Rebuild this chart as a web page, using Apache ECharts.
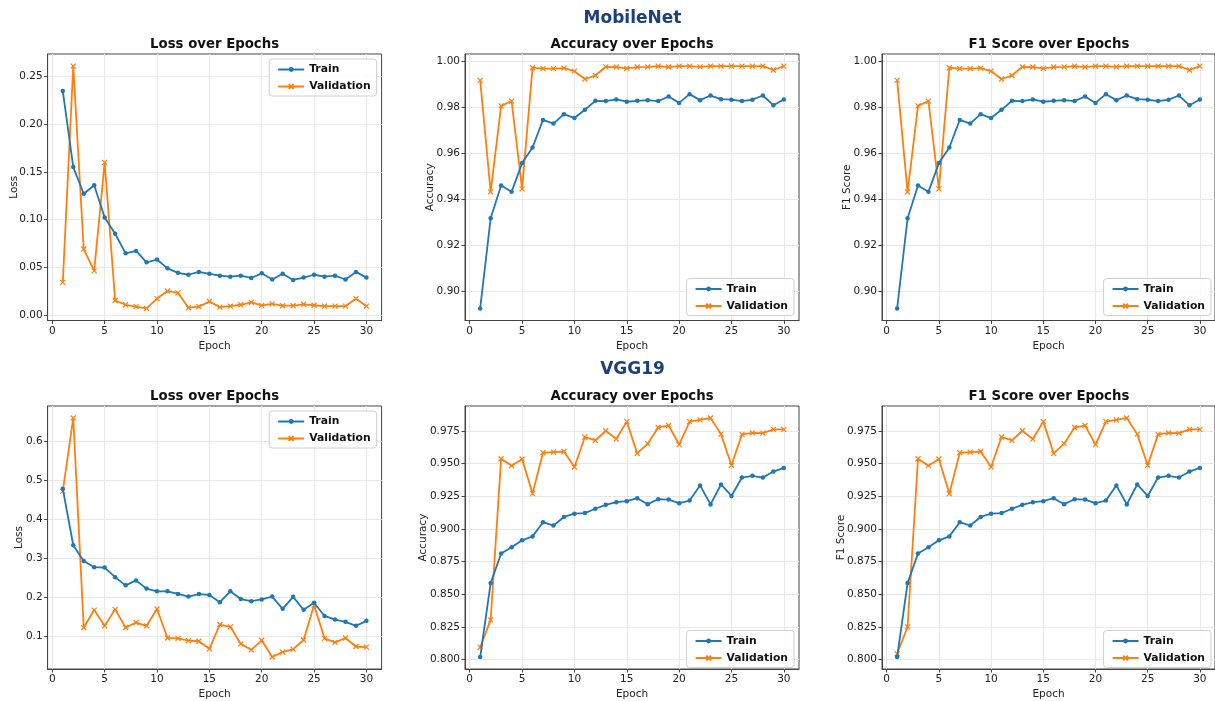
<!DOCTYPE html>
<html>
<head>
<meta charset="utf-8">
<script src="https://cdn.jsdelivr.net/npm/echarts@6/dist/echarts.min.js"></script>
<style>
html,body{margin:0;padding:0;background:#fff;}
#chart{width:1215px;height:701px;}
</style>
</head>
<body>
<div id="chart"></div>
<script>
// ---------- DATA ----------
const epochs = [1,2,3,4,5,6,7,8,9,10,11,12,13,14,15,16,17,18,19,20,21,22,23,24,25,26,27,28,29,30];
const xTicks = [0,5,10,15,20,25,30];

// MobileNet
const mnLossTrain = [0.235,0.155,0.127,0.136,0.102,0.085,0.0645,0.067,0.055,0.058,0.0487,0.044,0.042,0.045,0.043,0.041,0.040,0.041,0.0386,0.0435,0.037,0.043,0.0365,0.039,0.042,0.040,0.041,0.037,0.045,0.039];
const mnLossVal = [0.034,0.261,0.069,0.046,0.160,0.015,0.0105,0.0085,0.0067,0.017,0.025,0.023,0.0074,0.0085,0.014,0.008,0.009,0.0105,0.013,0.0098,0.0115,0.0095,0.0095,0.011,0.010,0.009,0.009,0.009,0.017,0.009];
const mnAccTrain = [0.8927,0.9319,0.9462,0.9434,0.9559,0.9627,0.9747,0.9731,0.9772,0.9755,0.9791,0.9830,0.9829,0.9836,0.9826,0.9830,0.9833,0.9829,0.9849,0.9821,0.9859,0.9833,0.9853,0.9837,0.9835,0.9829,0.9835,0.9853,0.9811,0.9836];
const mnAccVal = [0.9919,0.9434,0.9808,0.9829,0.9447,0.9974,0.9970,0.9970,0.9972,0.9959,0.9925,0.9940,0.9978,0.9977,0.9971,0.9977,0.9978,0.9981,0.9977,0.9981,0.9981,0.9978,0.9981,0.9981,0.9981,0.9981,0.9981,0.9981,0.9964,0.9981];
const mnF1Train = [0.8927,0.9319,0.9462,0.9434,0.9559,0.9627,0.9747,0.9731,0.9772,0.9755,0.9791,0.9830,0.9829,0.9836,0.9826,0.9830,0.9833,0.9829,0.9849,0.9821,0.9859,0.9833,0.9853,0.9837,0.9835,0.9829,0.9835,0.9853,0.9811,0.9836];
const mnF1Val = [0.9919,0.9434,0.9808,0.9829,0.9447,0.9974,0.9970,0.9970,0.9972,0.9959,0.9925,0.9940,0.9978,0.9977,0.9971,0.9977,0.9978,0.9981,0.9977,0.9981,0.9981,0.9978,0.9981,0.9981,0.9981,0.9981,0.9981,0.9981,0.9964,0.9981];

// VGG19
const vgLossTrain = [0.479,0.3335,0.293,0.277,0.276,0.2514,0.2303,0.243,0.222,0.215,0.215,0.2083,0.2015,0.208,0.2058,0.187,0.215,0.195,0.1897,0.194,0.2015,0.170,0.2007,0.1677,0.1855,0.1516,0.1423,0.1364,0.1262,0.139];
const vgLossVal = [0.472,0.661,0.122,0.1668,0.1262,0.1685,0.122,0.1347,0.1262,0.1694,0.095,0.094,0.0882,0.0865,0.067,0.1296,0.1237,0.0797,0.0645,0.089,0.0459,0.0585,0.0662,0.0898,0.1795,0.094,0.0838,0.095,0.073,0.0713];
const vgAccTrain = [0.8018,0.8585,0.8812,0.886,0.8913,0.8943,0.9052,0.9026,0.9092,0.9117,0.9122,0.9155,0.9185,0.9205,0.9213,0.9236,0.919,0.9228,0.9225,0.9198,0.9218,0.9334,0.9188,0.9341,0.9253,0.9394,0.9407,0.9394,0.9440,0.9468];
const vgAccVal = [0.8093,0.8303,0.9538,0.9485,0.9536,0.9271,0.9584,0.9589,0.9594,0.9475,0.9705,0.9679,0.9753,0.9689,0.9823,0.9579,0.9654,0.9778,0.9793,0.9647,0.9823,0.9836,0.9851,0.9727,0.9488,0.9725,0.9737,0.9735,0.9763,0.9763];
const vgF1Train = [0.8018,0.8585,0.8812,0.886,0.8913,0.8943,0.9052,0.9026,0.9092,0.9117,0.9122,0.9155,0.9185,0.9205,0.9213,0.9236,0.919,0.9228,0.9225,0.9198,0.9218,0.9334,0.9188,0.9341,0.9253,0.9394,0.9407,0.9394,0.9440,0.9468];
const vgF1Val = [0.8043,0.825,0.9538,0.9485,0.9536,0.9271,0.9584,0.9589,0.9594,0.9475,0.9705,0.9679,0.9753,0.9689,0.9823,0.9579,0.9654,0.9778,0.9793,0.9647,0.9823,0.9836,0.9851,0.9727,0.9488,0.9725,0.9737,0.9735,0.9763,0.9763];

// tick labels
const yTicksMnLoss = [0.00,0.05,0.10,0.15,0.20,0.25];
const yTicksMnAcc = [0.90,0.92,0.94,0.96,0.98,1.00];
const yTicksVgLoss = [0.1,0.2,0.3,0.4,0.5,0.6];
const yTicksVgAcc = [0.800,0.825,0.850,0.875,0.900,0.925,0.950,0.975];

const suptitles = ['MobileNet','VGG19'];
const panelTitles = ['Loss over Epochs','Accuracy over Epochs','F1 Score over Epochs'];
const yNames = ['Loss','Accuracy','F1 Score'];
const seriesNames = ['Train','Validation'];

// ---------- LAYOUT ----------
const FONT = 'DejaVu Sans';
const TXT = '#222';
const C_TRAIN = '#1f77b4', C_VAL = '#ff7f0e';
const gridW = 334, gridH = 266.5;
const lefts = [47.6, 465, 882];
const tops = [54, 406];

const panels = [
  {row:0,col:0,train:mnLossTrain,val:mnLossVal,ticks:yTicksMnLoss,dec:2,nameGap:28,legend:'top'},
  {row:0,col:1,train:mnAccTrain,val:mnAccVal,ticks:yTicksMnAcc,dec:2,nameGap:29,legend:'bottom'},
  {row:0,col:2,train:mnF1Train,val:mnF1Val,ticks:yTicksMnAcc,dec:2,nameGap:29,legend:'bottom'},
  {row:1,col:0,train:vgLossTrain,val:vgLossVal,ticks:yTicksVgLoss,dec:1,nameGap:23,legend:'top'},
  {row:1,col:1,train:vgAccTrain,val:vgAccVal,ticks:yTicksVgAcc,dec:3,nameGap:36,legend:'bottom'},
  {row:1,col:2,train:vgF1Train,val:vgF1Val,ticks:yTicksVgAcc,dec:3,nameGap:35,legend:'bottom'}
];

const xSpan = epochs[epochs.length-1] - epochs[0];
const xMin = epochs[0] - 0.05*xSpan, xMax = epochs[epochs.length-1] + 0.05*xSpan;

const grids=[], xAxes=[], yAxes=[], series=[], titles=[], legends=[];
const X_PATH = 'path://M0,0L10,10M10,0L0,10';

suptitles.forEach((t,r)=>{
  titles.push({text:t,left:632.5,top:r===0?10:361,textAlign:'center',padding:0,
    textStyle:{fontFamily:FONT,fontWeight:'bold',fontSize:17,color:'#1c3f7e'}});
});

panels.forEach((p,i)=>{
  const left = lefts[p.col], top = tops[p.row];
  grids.push({left:left,top:top,width:gridW,height:gridH,show:true,borderColor:'#444',borderWidth:1,backgroundColor:'transparent'});
  const all = p.train.concat(p.val);
  const lo = Math.min.apply(null,all), hi = Math.max.apply(null,all);
  const yMin = lo - 0.05*(hi-lo), yMax = hi + 0.05*(hi-lo);
  xAxes.push({type:'value',gridIndex:i,min:xMin,max:xMax,
    name:'Epoch',nameLocation:'middle',nameGap:20,nameMoveOverlap:false,
    nameTextStyle:{fontFamily:FONT,fontSize:10.5,color:TXT},
    axisLine:{show:true,onZero:false,lineStyle:{color:'#444'}},
    axisTick:{show:true,length:3.5,lineStyle:{color:'#444'},customValues:xTicks},
    axisLabel:{fontFamily:FONT,fontSize:10.5,color:TXT,margin:5,customValues:xTicks},
    splitLine:{show:true,lineStyle:{color:'#e8e8e8',width:1}}});
  yAxes.push({type:'value',gridIndex:i,min:yMin,max:yMax,
    name:yNames[p.col],nameLocation:'middle',nameGap:p.nameGap,nameMoveOverlap:false,
    nameTextStyle:{fontFamily:FONT,fontSize:10.5,color:TXT},
    axisLine:{show:true,onZero:false,lineStyle:{color:'#444'}},
    axisTick:{show:true,length:3.5,lineStyle:{color:'#444'},customValues:p.ticks},
    axisLabel:{fontFamily:FONT,fontSize:10.5,color:TXT,margin:5,customValues:p.ticks,
      formatter:(v)=>v.toFixed(p.dec)},
    splitLine:{show:true,lineStyle:{color:'#e8e8e8',width:1}}});
  titles.push({text:panelTitles[p.col],left:left+gridW/2,top:top-16,textAlign:'center',padding:0,
    textStyle:{fontFamily:FONT,fontWeight:'bold',fontSize:13.3,color:'#111'}});
  series.push({name:seriesNames[0],type:'line',xAxisIndex:i,yAxisIndex:i,
    data:epochs.map((e,k)=>[e,p.train[k]]),
    symbol:'circle',symbolSize:4.5,showAllSymbol:true,
    lineStyle:{color:C_TRAIN,width:1.8},itemStyle:{color:C_TRAIN},z:3});
  series.push({name:seriesNames[1],type:'line',xAxisIndex:i,yAxisIndex:i,
    data:epochs.map((e,k)=>[e,p.val[k]]),
    symbol:X_PATH,symbolSize:5,showAllSymbol:true,
    lineStyle:{color:C_VAL,width:1.8},itemStyle:{color:C_VAL,borderColor:C_VAL,borderWidth:1.2},z:2});
  const lg = {orient:'vertical',data:seriesNames,itemWidth:26,itemHeight:6,itemGap:6,
    padding:[5,6,4,8],borderColor:'#d0d0d0',borderWidth:1,borderRadius:3,backgroundColor:'rgba(255,255,255,0.85)',
    selectedMode:false,
    textStyle:{fontFamily:FONT,fontWeight:'bold',fontSize:10.8,color:'#111'}};
  const rightPx = 1215 - (left + gridW) + 5;
  lg.right = rightPx;
  if (p.legend==='top') lg.top = top + 5;
  else lg.top = top + gridH - 42;
  legends.push(lg);
});

const chart = echarts.init(document.getElementById('chart'),null,{renderer:'canvas'});
chart.setOption({
  animation:false,
  backgroundColor:'#fff',
  title:titles,
  grid:grids,
  xAxis:xAxes,
  yAxis:yAxes,
  legend:legends,
  series:series
});
</script>
</body>
</html>
